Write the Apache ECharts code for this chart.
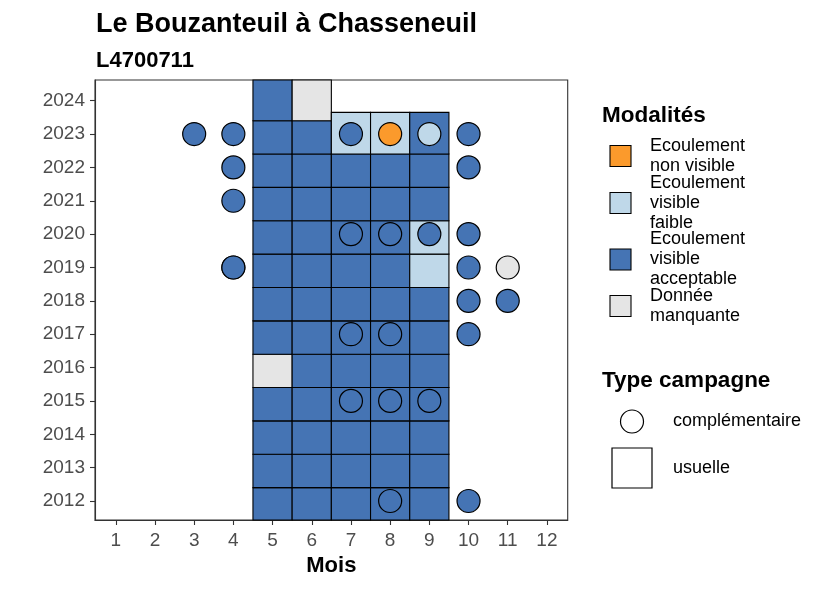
<!DOCTYPE html>
<html>
<head>
<meta charset="utf-8">
<script src="https://cdn.jsdelivr.net/npm/echarts@6/dist/echarts.min.js"></script>
<style>
  html, body { margin: 0; padding: 0; background: #fff; }
  #chart { width: 826px; height: 590px; }
</style>
</head>
<body>
<div id="chart"></div>
<script>
// axis ticks
const moisTicks = [1, 2, 3, 4, 5, 6, 7, 8, 9, 10, 11, 12];
const anneeTicks = [2012, 2013, 2014, 2015, 2016, 2017, 2018, 2019, 2020, 2021, 2022, 2023, 2024];

// modalites : NV = non visible, VF = visible faible, VA = visible acceptable, DM = donnee manquante
const modaliteCodes = ['NV', 'VF', 'VA', 'DM'];
const modaliteLabels = ['Ecoulement\nnon visible', 'Ecoulement\nvisible\nfaible', 'Ecoulement\nvisible\nacceptable', 'Donnée\nmanquante'];
const modaliteColors = ['#fb9a2c', '#bfd8e9', '#4574b4', '#e5e5e5'];

// campagnes usuelles (mai a septembre), une ligne par annee
const usuelleMois = [5, 6, 7, 8, 9];
const usuelleAnnees = [2012, 2013, 2014, 2015, 2016, 2017, 2018, 2019, 2020, 2021, 2022, 2023, 2024];
const usuelleModalites = [
  ['VA', 'VA', 'VA', 'VA', 'VA'],
  ['VA', 'VA', 'VA', 'VA', 'VA'],
  ['VA', 'VA', 'VA', 'VA', 'VA'],
  ['VA', 'VA', 'VA', 'VA', 'VA'],
  ['DM', 'VA', 'VA', 'VA', 'VA'],
  ['VA', 'VA', 'VA', 'VA', 'VA'],
  ['VA', 'VA', 'VA', 'VA', 'VA'],
  ['VA', 'VA', 'VA', 'VA', 'VF'],
  ['VA', 'VA', 'VA', 'VA', 'VF'],
  ['VA', 'VA', 'VA', 'VA', 'VA'],
  ['VA', 'VA', 'VA', 'VA', 'VA'],
  ['VA', 'VA', 'VF', 'VF', 'VA'],
  ['VA', 'DM', null, null, null]
];

// campagnes complementaires
const compMois = [3, 4, 7, 8, 9, 10, 4, 10, 4, 7, 8, 9, 10, 4, 4, 10, 11, 10, 11, 7, 8, 10, 7, 8, 9, 8, 10];
const compAnnees = [2023, 2023, 2023, 2023, 2023, 2023, 2022, 2022, 2021, 2020, 2020, 2020, 2020, 2019, 2019, 2019, 2019, 2018, 2018, 2017, 2017, 2017, 2015, 2015, 2015, 2012, 2012];
const compModalites = ['VA', 'VA', 'VA', 'NV', 'VF', 'VA', 'VA', 'VA', 'VA', 'VA', 'VA', 'VA', 'VA', 'VA', 'VA', 'VA', 'DM', 'VA', 'VA', 'VA', 'VA', 'VA', 'VA', 'VA', 'VA', 'VA', 'VA'];

const colorOf = code => modaliteColors[modaliteCodes.indexOf(code)];
const FONT = 'Liberation Sans';

// tiles: [mois, bas, haut] ; la derniere tuile de chaque mois est plus haute
const tiles = [];
usuelleMois.forEach((m, j) => {
  let last = null;
  usuelleAnnees.forEach((a, i) => { if (usuelleModalites[i][j]) last = a; });
  usuelleAnnees.forEach((a, i) => {
    const code = usuelleModalites[i][j];
    if (!code) return;
    tiles.push({ value: [m, a - 0.6, a === last ? a + 0.65 : a + 0.4], code: code });
  });
});

const points = compMois.map((m, i) => ({
  value: [m, compAnnees[i]],
  itemStyle: { color: colorOf(compModalites[i]) }
}));

const chart = echarts.init(document.getElementById('chart'), null, { renderer: 'canvas' });

const legendGraphics = [];
legendGraphics.push({
  type: 'text', left: 602, top: 104,
  style: { text: 'Modalités', font: 'bold 22.5px "' + FONT + '"', fill: '#000' }
});
const keyCenters = [156, 203, 259.5, 306];
modaliteCodes.forEach((c, i) => {
  legendGraphics.push({
    type: 'rect', shape: { x: 610, y: keyCenters[i] - 10.5, width: 21, height: 21 },
    style: { fill: modaliteColors[i], stroke: '#000', lineWidth: 1.1 }
  });
  legendGraphics.push({
    type: 'text', x: 650, y: keyCenters[i],
    style: { text: modaliteLabels[i], font: '18px "' + FONT + '"', fill: '#000', lineHeight: 20, verticalAlign: 'middle', align: 'left' }
  });
});
legendGraphics.push({
  type: 'text', left: 602, top: 369,
  style: { text: 'Type campagne', font: 'bold 22.5px "' + FONT + '"', fill: '#000' }
});
legendGraphics.push({
  type: 'circle', shape: { cx: 632, cy: 421.5, r: 11.5 },
  style: { fill: '#fff', stroke: '#000', lineWidth: 1.2 }
});
legendGraphics.push({
  type: 'text', x: 673, y: 421.5,
  style: { text: 'complémentaire', font: '18px "' + FONT + '"', fill: '#000', verticalAlign: 'middle' }
});
legendGraphics.push({
  type: 'rect', shape: { x: 612, y: 448, width: 40, height: 40 },
  style: { fill: '#fff', stroke: '#000', lineWidth: 1.2 }
});
legendGraphics.push({
  type: 'text', x: 673, y: 468,
  style: { text: 'usuelle', font: '18px "' + FONT + '"', fill: '#000', verticalAlign: 'middle' }
});

const option = {
  backgroundColor: '#fff',
  animation: false,
  textStyle: { fontFamily: FONT },
  title: [
    { text: 'Le Bouzanteuil à Chasseneuil', left: 91, top: 6,
      textStyle: { fontFamily: FONT, fontSize: 27, fontWeight: 'bold', color: '#000' } },
    { text: 'L4700711', left: 91, top: 45,
      textStyle: { fontFamily: FONT, fontSize: 22, fontWeight: 'bold', color: '#000' } }
  ],
  grid: {
    left: 95, top: 80, width: 472.7, height: 440,
    show: true, borderColor: '#333', borderWidth: 1.1, backgroundColor: '#fff'
  },
  xAxis: {
    type: 'value', min: 0.47, max: 12.53,
    name: 'Mois', nameLocation: 'middle', nameGap: 34,
    nameTextStyle: { fontFamily: FONT, fontSize: 22, fontWeight: 'bold', color: '#000' },
    axisLine: { show: true, onZero: false, lineStyle: { color: '#333', width: 1.1 } },
    axisTick: { show: true, length: 5, customValues: moisTicks, lineStyle: { color: '#333', width: 1.1 } },
    axisLabel: { customValues: moisTicks, margin: 11, fontFamily: FONT, fontSize: 19, color: '#4d4d4d',
      formatter: v => String(v) },
    splitLine: { show: false }
  },
  yAxis: {
    type: 'value', min: 2011.43, max: 2024.62,
    axisLine: { show: true, onZero: false, lineStyle: { color: '#333', width: 1.1 } },
    axisTick: { show: true, length: 5, customValues: anneeTicks, lineStyle: { color: '#333', width: 1.1 } },
    axisLabel: { customValues: anneeTicks, margin: 10, fontFamily: FONT, fontSize: 19, color: '#4d4d4d',
      formatter: v => String(v) },
    splitLine: { show: false }
  },
  series: [
    {
      name: 'usuelle',
      type: 'custom',
      encode: { x: 0, y: [1, 2] },
      data: tiles,
      renderItem: function (params, api) {
        const t = tiles[params.dataIndex];
        const m = api.value(0);
        const p0 = api.coord([m - 0.5, api.value(2)]);
        const p1 = api.coord([m + 0.5, api.value(1)]);
        const cs = params.coordSys;
        const shape = echarts.graphic.clipRectByRect(
          { x: p0[0], y: p0[1], width: p1[0] - p0[0], height: p1[1] - p0[1] },
          { x: cs.x, y: cs.y, width: cs.width, height: cs.height }
        );
        if (!shape) return null;
        return {
          type: 'rect', shape: shape,
          style: { fill: colorOf(t.code), stroke: '#000', lineWidth: 1.1 }
        };
      }
    },
    {
      name: 'complémentaire',
      type: 'scatter',
      symbol: 'circle',
      symbolSize: 23,
      data: points,
      itemStyle: { borderColor: '#000', borderWidth: 1.2, opacity: 1 },
      z: 3
    }
  ],
  graphic: legendGraphics
};

chart.setOption(option);
</script>
</body>
</html>
